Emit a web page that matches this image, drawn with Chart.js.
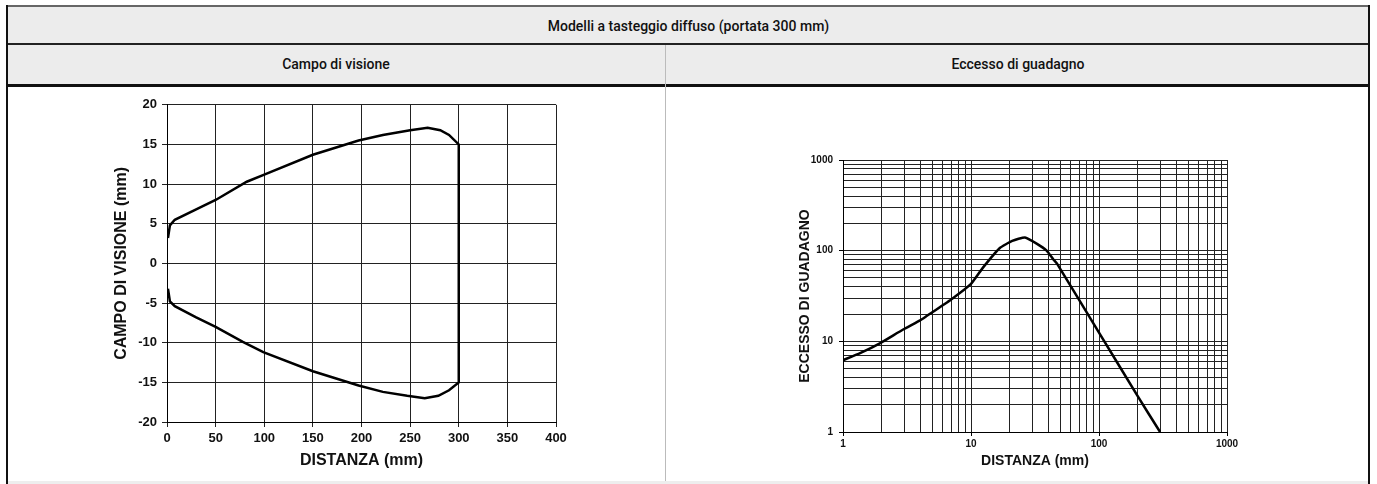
<!DOCTYPE html>
<html>
<head>
<meta charset="utf-8">
<script src="https://cdn.jsdelivr.net/npm/chart.js@4.4.0/dist/chart.umd.min.js"></script>
<style>
  body { margin:0; background:#fff; width:1377px; height:484px; overflow:hidden; position:relative;
         font-family:"Liberation Sans", Arial, sans-serif; }
  .abs { position:absolute; }
  .hdr { background:#ececec; color:#111; font-family:Roboto, "Liberation Sans", sans-serif;
         font-weight:500; font-size:14px; text-align:center; }
  canvas { position:absolute; }
</style>
</head>
<body>
<!-- table frame -->
<div class="abs hdr" style="left:7px;top:5px;width:1363px;height:38px;line-height:38px;border-top:2px solid #666;">Modelli a tasteggio diffuso (portata 300 mm)</div>
<div class="abs" style="left:7px;top:43px;width:1363px;height:2px;background:#222"></div>
<div class="abs hdr" style="left:7px;top:45px;width:658px;height:39px;line-height:39px;">Campo di visione</div>
<div class="abs hdr" style="left:666px;top:45px;width:704px;height:39px;line-height:39px;">Eccesso di guadagno</div>
<div class="abs" style="left:7px;top:84px;width:1363px;height:3px;background:#111"></div>
<div class="abs" style="left:665px;top:45px;width:1px;height:437px;background:#bbb"></div>
<div class="abs" style="left:6px;top:5px;width:2px;height:479px;background:#111"></div>
<div class="abs" style="left:1368px;top:5px;width:2px;height:479px;background:#111"></div>
<div class="abs" style="left:8px;top:481px;width:1360px;height:3px;background:#eee"></div>

<canvas id="fov" width="490" height="390" style="left:90px;top:92px"></canvas>
<canvas id="gain" width="500" height="337" style="left:760px;top:145px"></canvas>

<script>
// ---- Campo di visione ----
const fovDistUpper = [1, 3, 8, 30, 50, 82, 100, 150, 197, 222, 250, 268, 281, 290, 300];
const fovUpper     = [3.2, 4.8, 5.5, 6.8, 8.0, 10.3, 11.2, 13.7, 15.5, 16.2, 16.8, 17.1, 16.8, 16.2, 15];
const fovDistLower = [1, 3, 8, 30, 50, 78, 99, 150, 197, 222, 247, 265, 279, 290, 300];
const fovLower     = [-3.2, -4.8, -5.4, -6.8, -8.0, -9.9, -11.2, -13.6, -15.4, -16.2, -16.7, -17.0, -16.7, -16.0, -15];

// ---- Eccesso di guadagno ----
const gainDist  = [1, 1.36, 1.94, 2.95, 4, 4.5, 7, 10, 12.4, 16.8, 21, 26.4, 32.8, 39, 44, 47, 100, 200, 300];
const gainValue = [6.2, 7.4, 9.5, 13.5, 17, 19, 29, 43, 65, 107, 128, 140, 119, 100, 80, 72, 12.5, 2.5, 1];
const gainGrid  = [1, 2, 3, 4, 5, 6, 7, 8, 9, 10, 20, 30, 40, 50, 60, 70, 80, 90,
                   100, 200, 300, 400, 500, 600, 700, 800, 900, 1000];
const gainLabels = [1, 10, 100, 1000];

const FONT = '"Liberation Sans", Arial, sans-serif';
Chart.defaults.font.family = FONT;
Chart.defaults.color = '#111';

// contour: upper edge left->right, then lower edge right->left (closes at 300 mm)
const fovPoints = fovDistUpper.map((d, i) => ({ x: d, y: fovUpper[i] }))
  .concat(fovDistLower.map((d, i) => ({ x: d, y: fovLower[i] })).reverse());

new Chart(document.getElementById('fov'), {
  type: 'scatter',
  data: {
    datasets: [{
      data: fovPoints, showLine: true, borderColor: '#000', borderWidth: 2.5,
      pointRadius: 0, tension: 0, fill: false
    }]
  },
  options: {
    responsive: false, animation: false,
    layout: { padding: { top: 12, right: 24, left: 0, bottom: 0 } },
    plugins: { legend: { display: false }, tooltip: { enabled: false } },
    scales: {
      x: {
        type: 'linear', min: 0, max: 400,
        ticks: { stepSize: 50, maxRotation: 0, padding: 4, font: { size: 13, weight: 'bold' } },
        grid: { color: '#222', lineWidth: 1, tickLength: 5 },
        border: { color: '#000' },
        title: { display: true, text: 'DISTANZA (mm)', padding: 12, font: { size: 16, weight: 'bold' } },
        afterFit: s => { s.height = 60; }
      },
      y: {
        type: 'linear', min: -20, max: 20,
        ticks: { stepSize: 5, padding: 5, font: { size: 13, weight: 'bold' } },
        grid: { color: '#222', lineWidth: 1, tickLength: 5 },
        border: { color: '#000' },
        title: { display: true, text: 'CAMPO DI VISIONE (mm)', padding: 22, font: { size: 16, weight: 'bold' } },
        afterFit: s => { s.width = 77; }
      }
    }
  }
});

const logTicks = s => { s.ticks = gainGrid.map(v => ({ value: v })); };
const logLabel = v => gainLabels.includes(v) ? String(v) : '';
const logTickColor = c => (c.tick && gainLabels.includes(c.tick.value)) ? '#000' : 'rgba(0,0,0,0)';

new Chart(document.getElementById('gain'), {
  type: 'scatter',
  data: {
    datasets: [{
      data: gainDist.map((d, i) => ({ x: d, y: gainValue[i] })),
      showLine: true, borderColor: '#000', borderWidth: 2.5,
      pointRadius: 0, tension: 0.15, fill: false
    }]
  },
  options: {
    responsive: false, animation: false,
    layout: { padding: { top: 15, right: 33, left: 0, bottom: 0 } },
    plugins: { legend: { display: false }, tooltip: { enabled: false } },
    scales: {
      x: {
        type: 'logarithmic', min: 1, max: 1000,
        afterBuildTicks: logTicks,
        ticks: { autoSkip: false, maxRotation: 0, padding: 2, callback: logLabel, font: { size: 10, weight: 'bold' } },
        grid: { color: '#222', lineWidth: 1, tickLength: 4, tickColor: logTickColor },
        border: { color: '#000' },
        title: { display: true, text: 'DISTANZA (mm)', padding: 12, font: { size: 14, weight: 'bold' } },
        afterFit: s => { s.height = 50; }
      },
      y: {
        type: 'logarithmic', min: 1, max: 1000,
        afterBuildTicks: logTicks,
        ticks: { autoSkip: false, padding: 6, callback: logLabel, font: { size: 10, weight: 'bold' } },
        grid: { color: '#222', lineWidth: 1, tickLength: 4, tickColor: logTickColor },
        border: { color: '#000' },
        title: { display: true, text: 'ECCESSO DI GUADAGNO', padding: 37, font: { size: 14, weight: 'bold' } },
        afterFit: s => { s.width = 83; }
      }
    }
  }
});
</script>
</body>
</html>
